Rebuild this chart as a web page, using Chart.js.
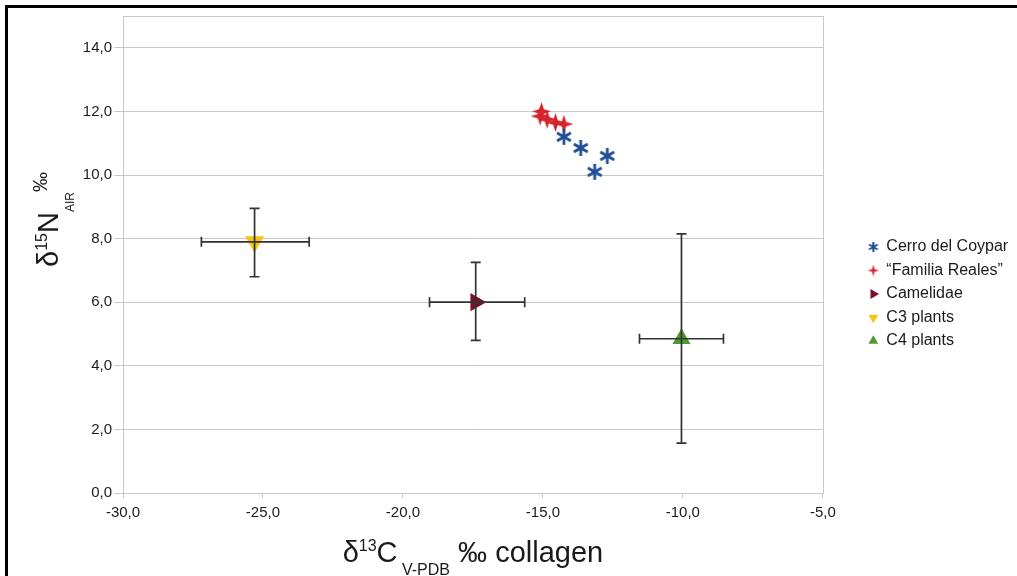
<!DOCTYPE html>
<html>
<head>
<meta charset="utf-8">
<script src="https://cdn.jsdelivr.net/npm/chart.js@4.4.1/dist/chart.umd.min.js"></script>
<style>
  html, body { margin: 0; padding: 0; background: #fff; }
  #wrap { width: 1017px; height: 576px; position: relative; }
</style>
</head>
<body>
<div id="wrap"><canvas id="isotopeChart"></canvas></div>
<script>
const seriesNames = ['Cerro del Coypar', '\u201cFamilia Reales\u201d', 'Camelidae', 'C3 plants', 'C4 plants'];

// individual samples
const coyparC = [-14.25, -13.65, -12.7, -13.15];
const coyparN = [11.2, 10.85, 10.6, 10.1];
const realesC = [-15.05, -15.1, -14.85, -14.55, -14.25];
const realesN = [12.0, 11.85, 11.75, 11.65, 11.6];

// means with [low, high] ranges
const camelidC = -17.4, camelidN = 6.0;
const camelidCRange = [-19.05, -15.65];
const camelidNRange = [4.8, 7.25];
const c3C = -25.3, c3N = 7.9;
const c3CRange = [-27.2, -23.35];
const c3NRange = [6.8, 8.95];
const c4C = -10.05, c4N = 4.85;
const c4CRange = [-11.55, -8.55];
const c4NRange = [1.57, 8.15];

const xTicks = [-30, -25, -20, -15, -10, -5];
const yTicks = [0, 2, 4, 6, 8, 10, 12, 14];

const FONT = "'Liberation Sans', Arial, sans-serif";
const gridGrey = '#c9c9c9';

function asterisk(size, color, lw) {
  const c = document.createElement('canvas');
  c.width = c.height = size;
  const g = c.getContext('2d');
  g.strokeStyle = color;
  g.lineWidth = lw;
  const m = size / 2, r = size / 2 - 1;
  for (let i = 0; i < 3; i++) {
    const a = Math.PI / 2 + i * Math.PI / 3;
    g.beginPath();
    g.moveTo(m + Math.cos(a) * r, m - Math.sin(a) * r);
    g.lineTo(m - Math.cos(a) * r, m + Math.sin(a) * r);
    g.stroke();
  }
  return c;
}

function sparkle(size, color, inner) {
  const c = document.createElement('canvas');
  c.width = c.height = size;
  const g = c.getContext('2d');
  g.fillStyle = color;
  const m = size / 2, ro = size / 2, ri = size * inner;
  g.beginPath();
  for (let i = 0; i < 8; i++) {
    const a = i * Math.PI / 4 - Math.PI / 2;
    const r = i % 2 ? ri : ro;
    g.lineTo(m + Math.cos(a) * r, m + Math.sin(a) * r);
  }
  g.closePath();
  g.fill();
  return c;
}

const blue = '#1f4f95', red = '#d6232c', maroon = '#7a0f25', yellow = '#f6c416', green = '#4f9a2f';

function pts(xs, ys) { return xs.map(function(x, i) { return { x: x, y: ys[i] } }) }
function meanPt(x, y, xr, yr) { return [{ x: x, y: y, xMin: xr[0], xMax: xr[1], yMin: yr[0], yMax: yr[1] }] }

const fmt = function(v) { return Number(v).toFixed(1).replace('.', ',') };

// draws a run of text pieces with their own size and baseline shift
function richText(ctx, parts, x, y, center) {
  let total = 0;
  parts.forEach(function(p) { ctx.font = p.size + 'px ' + FONT; total += ctx.measureText(p.text).width });
  let cx = center ? x - total / 2 : x;
  parts.forEach(function(p) {
    ctx.font = p.size + 'px ' + FONT;
    ctx.fillText(p.text, cx, y + (p.dy || 0));
    cx += ctx.measureText(p.text).width;
  });
}

const decorPlugin = {
  id: 'decor',
  beforeDraw(chart) {
    const ctx = chart.ctx;
    ctx.save();
    ctx.fillStyle = '#fff';
    ctx.fillRect(0, 0, chart.width, chart.height);
    ctx.fillStyle = '#000';
    ctx.fillRect(5, 5, chart.width - 5, 3);
    ctx.fillRect(5, 5, 3, chart.height - 5);
    ctx.restore();
  },
  afterDraw(chart) {
    const ctx = chart.ctx, a = chart.chartArea;
    ctx.save();
    ctx.strokeStyle = gridGrey;
    ctx.lineWidth = 1;
    ctx.strokeRect(Math.round(a.left) + 0.5, Math.round(a.top) + 0.5, Math.round(a.right - a.left), Math.round(a.bottom - a.top));
    ctx.fillStyle = '#1a1a1a';
    ctx.textBaseline = 'alphabetic';
    ctx.textAlign = 'left';
    richText(ctx, [
      { text: '\u03b4', size: 29 },
      { text: '13', size: 16, dy: -11 },
      { text: 'C', size: 29 },
      { text: ' V-PDB', size: 16, dy: 13 },
      { text: ' \u2030 collagen', size: 29 }
    ], (a.left + a.right) / 2, 562, true);
    ctx.translate(58, 267);
    ctx.rotate(-Math.PI / 2);
    richText(ctx, [
      { text: '\u03b4', size: 29 },
      { text: '15', size: 16, dy: -11 },
      { text: 'N', size: 29 },
      { text: 'AIR', size: 12, dy: 16 },
      { text: '\u2030', size: 20, dy: -11 }
    ], 0, 0, false);
    ctx.restore();
  }
};

const errorBarPlugin = {
  id: 'errorBars',
  afterDatasetsDraw(chart) {
    const ctx = chart.ctx, xs = chart.scales.x, ys = chart.scales.y, cap = 5;
    ctx.save();
    ctx.strokeStyle = '#333333';
    ctx.lineWidth = 1.7;
    chart.data.datasets.forEach(function(ds) {
      ds.data.forEach(function(p) {
        if (p.xMin === undefined) return;
        const px = xs.getPixelForValue(p.x), py = ys.getPixelForValue(p.y);
        const x1 = xs.getPixelForValue(p.xMin), x2 = xs.getPixelForValue(p.xMax);
        const y1 = ys.getPixelForValue(p.yMin), y2 = ys.getPixelForValue(p.yMax);
        ctx.beginPath();
        ctx.moveTo(x1, py); ctx.lineTo(x2, py);
        ctx.moveTo(x1, py - cap); ctx.lineTo(x1, py + cap);
        ctx.moveTo(x2, py - cap); ctx.lineTo(x2, py + cap);
        ctx.moveTo(px, y1); ctx.lineTo(px, y2);
        ctx.moveTo(px - cap, y1); ctx.lineTo(px + cap, y1);
        ctx.moveTo(px - cap, y2); ctx.lineTo(px + cap, y2);
        ctx.stroke();
      });
    });
    ctx.restore();
  }
};

const legendIcons = [asterisk(12, blue, 2), sparkle(12, red, 0.15)];

new Chart(document.getElementById('isotopeChart'), {
  type: 'scatter',
  data: {
    datasets: [
      { label: seriesNames[0], data: pts(coyparC, coyparN), pointStyle: asterisk(18, blue, 2.8), pointRadius: 9, backgroundColor: blue, borderColor: blue },
      { label: seriesNames[1], data: pts(realesC, realesN), pointStyle: sparkle(19, red, 0.17), pointRadius: 9, backgroundColor: red, borderColor: red },
      { label: seriesNames[2], data: meanPt(camelidC, camelidN, camelidCRange, camelidNRange), pointStyle: 'triangle', rotation: 90, pointRadius: 10.5, backgroundColor: maroon, borderColor: maroon, borderWidth: 0 },
      { label: seriesNames[3], data: meanPt(c3C, c3N, c3CRange, c3NRange), pointStyle: 'triangle', rotation: 180, pointRadius: 11, backgroundColor: yellow, borderColor: yellow, borderWidth: 0 },
      { label: seriesNames[4], data: meanPt(c4C, c4N, c4CRange, c4NRange), pointStyle: 'triangle', rotation: 0, pointRadius: 10.5, backgroundColor: green, borderColor: green, borderWidth: 0 }
    ]
  },
  options: {
    responsive: true,
    maintainAspectRatio: false,
    animation: false,
    layout: { padding: { left: 80, top: 16, right: 0, bottom: 43 } },
    plugins: {
      tooltip: { enabled: false },
      legend: {
        position: 'right',
        title: { display: true, text: '', font: { size: 10 }, padding: { top: 27, bottom: 0 } },
        labels: {
          usePointStyle: true,
          boxWidth: 10,
          boxHeight: 8,
          padding: 7.5,
          color: '#1a1a1a',
          font: { family: FONT, size: 16 },
          generateLabels: function(chart) {
            const items = Chart.defaults.plugins.legend.labels.generateLabels(chart);
            items.forEach(function(it, i) { if (legendIcons[i]) it.pointStyle = legendIcons[i] });
            return items;
          }
        }
      }
    },
    scales: {
      x: {
        type: 'linear',
        min: -30, max: -5,
        afterBuildTicks: function(s) { s.ticks = xTicks.map(function(v) { return { value: v } }) },
        afterFit: function(s) { s.height = 40 },
        grid: { drawOnChartArea: false, drawTicks: true, tickLength: 5, color: gridGrey },
        border: { color: gridGrey },
        ticks: { callback: fmt, color: '#1a1a1a', padding: 6, font: { family: FONT, size: 15 }, maxRotation: 0 }
      },
      y: {
        type: 'linear',
        min: 0, max: 15,
        afterBuildTicks: function(s) { s.ticks = yTicks.map(function(v) { return { value: v } }) },
        afterFit: function(s) { s.width = 43 },
        grid: { color: gridGrey, tickLength: 9 },
        border: { color: gridGrey },
        ticks: { callback: fmt, color: '#1a1a1a', padding: 2, font: { family: FONT, size: 15 } }
      },
      y2: {
        type: 'linear',
        position: 'right',
        afterFit: function(s) { s.width = 38 },
        grid: { display: false },
        border: { display: false },
        ticks: { display: false }
      }
    }
  },
  plugins: [decorPlugin, errorBarPlugin]
});
</script>
</body>
</html>
